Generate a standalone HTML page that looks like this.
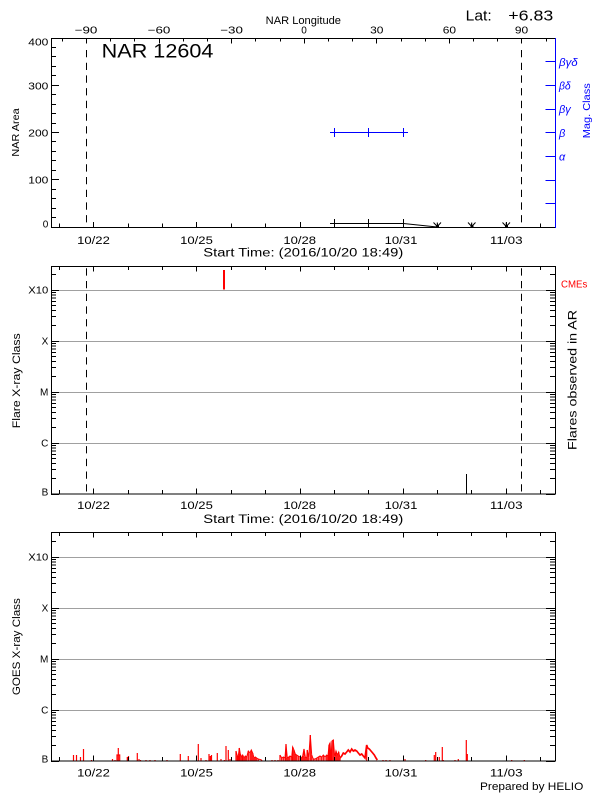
<!DOCTYPE html>
<html><head><meta charset="utf-8"><style>
html,body{margin:0;padding:0;background:#fff;}
svg{display:block;font-family:"Liberation Sans",sans-serif;}
</style></head><body>
<svg width="600" height="800" viewBox="0 0 600 800" xmlns="http://www.w3.org/2000/svg">
<defs>
<clipPath id="c2"><rect x="51" y="266" width="505" height="229"/></clipPath>
<clipPath id="c3"><rect x="51" y="532" width="505" height="230"/></clipPath>
<g id="lt" stroke="#000" stroke-width="1" shape-rendering="crispEdges" fill="none">
<path d="M51 -15.35h5M51 -24.33h5M51 -30.7h5M51 -35.65h5M51 -39.69h5M51 -43.1h5M51 -46.06h5M51 -48.67h5M51 0.5h8
M555 -15.35h-5M555 -24.33h-5M555 -30.7h-5M555 -35.65h-5M555 -39.69h-5M555 -43.1h-5M555 -46.06h-5M555 -48.67h-5M555 0.5h-9"/>
</g>
</defs>
<rect width="600" height="800" fill="#fff"/>

<!-- ================= PANEL 1 ================= -->
<g fill="#000">
<text x="265.7" y="24" font-size="11" textLength="75.3" lengthAdjust="spacingAndGlyphs">NAR Longitude</text>
<g font-size="10" text-anchor="middle">
<text x="86" y="33.3" textLength="22.7" lengthAdjust="spacingAndGlyphs">−90</text>
<text x="159" y="33.3" textLength="22.7" lengthAdjust="spacingAndGlyphs">−60</text>
<text x="231.6" y="33.3" textLength="22.7" lengthAdjust="spacingAndGlyphs">−30</text>
<text x="304" y="33.3">0</text>
<text x="376.8" y="33.3" textLength="13.3" lengthAdjust="spacingAndGlyphs">30</text>
<text x="449.4" y="33.3" textLength="13.3" lengthAdjust="spacingAndGlyphs">60</text>
<text x="521.5" y="33.3" textLength="13.3" lengthAdjust="spacingAndGlyphs">90</text>
</g>
<text x="465.7" y="20.7" font-size="15" textLength="26" lengthAdjust="spacingAndGlyphs">Lat:</text>
<text x="508.3" y="20.7" font-size="15" textLength="45" lengthAdjust="spacingAndGlyphs">+6.83</text>
<text x="101.7" y="57.3" font-size="19" textLength="111.7" lengthAdjust="spacingAndGlyphs">NAR 12604</text>
<g font-size="10" text-anchor="end">
<text x="48.3" y="45.7" textLength="20" lengthAdjust="spacingAndGlyphs">400</text>
<text x="48.3" y="89.3" textLength="20" lengthAdjust="spacingAndGlyphs">300</text>
<text x="48.3" y="136.7" textLength="20" lengthAdjust="spacingAndGlyphs">200</text>
<text x="48.3" y="183.3" textLength="20" lengthAdjust="spacingAndGlyphs">100</text>
<text x="48.3" y="227.7">0</text>
</g>
<text transform="translate(19,132.5) rotate(-90)" font-size="10.5" text-anchor="middle" textLength="48.3" lengthAdjust="spacingAndGlyphs">NAR Area</text>
<g font-size="11" text-anchor="middle">
<text x="93.5" y="244" textLength="32.7" lengthAdjust="spacingAndGlyphs">10/22</text>
<text x="196.5" y="244" textLength="32.7" lengthAdjust="spacingAndGlyphs">10/25</text>
<text x="299.7" y="244" textLength="32.7" lengthAdjust="spacingAndGlyphs">10/28</text>
<text x="401" y="244" textLength="32.7" lengthAdjust="spacingAndGlyphs">10/31</text>
<text x="506.3" y="244" textLength="32.7" lengthAdjust="spacingAndGlyphs">11/03</text>
</g>
<text x="203.3" y="256.5" font-size="11.5" textLength="200" lengthAdjust="spacingAndGlyphs">Start Time: (2016/10/20 18:49)</text>
</g>
<g fill="#0000ff" font-size="11" font-style="italic">
<text x="559" y="65.8" textLength="18.7" lengthAdjust="spacingAndGlyphs">βγδ</text>
<text x="559" y="89.5" textLength="11.7" lengthAdjust="spacingAndGlyphs">βδ</text>
<text x="559" y="113.2" textLength="11.7" lengthAdjust="spacingAndGlyphs">βγ</text>
<text x="559" y="136.8">β</text>
<text x="559" y="160.5">α</text>
</g>
<text transform="translate(590,110.8) rotate(-90)" fill="#0000ff" font-size="10.5" text-anchor="middle" textLength="55" lengthAdjust="spacingAndGlyphs">Mag. Class</text>

<g stroke="#000" stroke-width="1" fill="none" shape-rendering="crispEdges">
<path d="M51 38.5H555M51 227.5H555M51.5 38V228"/>
<!-- longitude ticks -->
<path d="M62.5 38v3.5M110.5 38v3.5M134.5 38v3.5M183.5 38v3.5M207.5 38v3.5M255.5 38v3.5M280.5 38v3.5M328.5 38v3.5M352.5 38v3.5M401.5 38v3.5M425.5 38v3.5M473.5 38v3.5M497.5 38v3.5M546.5 38v3.5
M86.5 38v5.5M159.5 38v5.5M231.5 38v5.5M304.5 38v5.5M376.5 38v5.5M449.5 38v5.5M521.5 38v5.5"/>
<!-- bottom day ticks -->
<path d="M59.5 227v-3.5M128.5 227v-3.5M162.5 227v-3.5M231.5 227v-3.5M265.5 227v-3.5M334.5 227v-3.5M368.5 227v-3.5M437.5 227v-3.5M471.5 227v-3.5M540.5 227v-3.5
M93.5 227v-5M196.5 227v-5M300.5 227v-5M403.5 227v-5M506.5 227v-5"/>
<!-- left y ticks -->
<path d="M51 217.5h5M51 208.5h5M51 198.5h5M51 189.5h5M51 170.5h5M51 160.5h5M51 151.5h5M51 141.5h5M51 123.5h5M51 113.5h5M51 104.5h5M51 94.5h5M51 75.5h5M51 66.5h5M51 56.5h5M51 47.5h5
M51 179.5h8M51 132.5h8M51 85.5h8"/>
</g>
<g stroke="#0000ff" stroke-width="1" fill="none" shape-rendering="crispEdges">
<path d="M555.5 38V228M545.5 61.5H555M545.5 85.5H555M545.5 109.5H555M545.5 132.5H555M545.5 156.5H555M545.5 180.5H555M545.5 203.5H555"/>
<path d="M330 132.5H408M334.5 128V137M368.5 128V137M403.5 128V137"/>
</g>
<g stroke="#000" stroke-width="1" fill="none">
<path d="M330 223.5H403.5L437 227" />
<path d="M334.5 219V227M368.5 219V227M403.5 219V227" shape-rendering="crispEdges"/>
<path d="M433.5 222.5L437.3 226.5L441 222.5M437.3 222.5V227M468 222.5L471.7 226.5L475.5 222.5M471.7 222.5V227M502.5 222.5L506.2 226.5L510 222.5M506.2 222.5V227"/>
</g>
<g fill="#000"><rect x="436" y="225" width="3" height="3"/><rect x="470.5" y="225" width="3" height="3"/><rect x="505" y="225" width="3" height="3"/></g>
<g stroke="#000" stroke-width="1" fill="none" stroke-dasharray="7.3 5.4">
<line x1="86.5" y1="50" x2="86.5" y2="227"/>
<line x1="521.5" y1="50" x2="521.5" y2="227"/>
</g>

<!-- ================= PANEL 2 ================= -->
<g stroke="#a0a0a0" stroke-width="1" shape-rendering="crispEdges">
<path d="M51 290.5H555M51 341.5H555M51 392.5H555M51 443.5H555"/>
</g>
<g clip-path="url(#c2)">
<use href="#lt" transform="translate(0,494)"/>
<use href="#lt" transform="translate(0,443)"/>
<use href="#lt" transform="translate(0,392)"/>
<use href="#lt" transform="translate(0,341)"/>
<use href="#lt" transform="translate(0,290)"/>
</g>
<g stroke="#000" stroke-width="1" fill="none" shape-rendering="crispEdges">
<rect x="51.5" y="266.5" width="504" height="227.5"/>
<path d="M59.5 494v-4M128.5 494v-4M162.5 494v-4M231.5 494v-4M265.5 494v-4M334.5 494v-4M368.5 494v-4M437.5 494v-4M471.5 494v-4M540.5 494v-4
M93.5 494v-5.5M196.5 494v-5.5M300.5 494v-5.5M403.5 494v-5.5M506.5 494v-5.5
M59.5 266v4M128.5 266v4M162.5 266v4M231.5 266v4M265.5 266v4M334.5 266v4M368.5 266v4M437.5 266v4M471.5 266v4M540.5 266v4
M93.5 266v5.5M196.5 266v5.5M300.5 266v5.5M403.5 266v5.5M506.5 266v5.5"/>
<path d="M466.5 474V494"/>
</g>
<rect x="223" y="270" width="2" height="19.5" fill="#ff0000"/>
<g stroke="#000" stroke-width="1" fill="none" stroke-dasharray="7.3 5.4">
<line x1="86.5" y1="268.3" x2="86.5" y2="494"/>
<line x1="521.5" y1="268.3" x2="521.5" y2="494"/>
</g>
<g fill="#000">
<g font-size="10" text-anchor="end">
<text x="48.3" y="293.5" textLength="20" lengthAdjust="spacingAndGlyphs">X10</text>
<text x="48.3" y="344.5">X</text>
<text x="48.3" y="395.5">M</text>
<text x="48.3" y="446.5">C</text>
<text x="48.3" y="495.7">B</text>
</g>
<text transform="translate(20,380.8) rotate(-90)" font-size="11" text-anchor="middle" textLength="95" lengthAdjust="spacingAndGlyphs">Flare X-ray Class</text>
<text transform="translate(576.7,380) rotate(-90)" font-size="11.5" text-anchor="middle" textLength="140" lengthAdjust="spacingAndGlyphs">Flares observed in AR</text>
<g font-size="11" text-anchor="middle">
<text x="93.5" y="509" textLength="32.7" lengthAdjust="spacingAndGlyphs">10/22</text>
<text x="196.5" y="509" textLength="32.7" lengthAdjust="spacingAndGlyphs">10/25</text>
<text x="299.7" y="509" textLength="32.7" lengthAdjust="spacingAndGlyphs">10/28</text>
<text x="401" y="509" textLength="32.7" lengthAdjust="spacingAndGlyphs">10/31</text>
<text x="506.3" y="509" textLength="32.7" lengthAdjust="spacingAndGlyphs">11/03</text>
</g>
<text x="203.3" y="523" font-size="11.5" textLength="200" lengthAdjust="spacingAndGlyphs">Start Time: (2016/10/20 18:49)</text>
</g>
<text x="561" y="287.3" fill="#ff0000" font-size="10.5" textLength="26.3" lengthAdjust="spacingAndGlyphs">CMEs</text>

<!-- ================= PANEL 3 ================= -->
<g stroke="#a0a0a0" stroke-width="1" shape-rendering="crispEdges">
<path d="M51 557.5H555M51 608.5H555M51 659.5H555M51 710.5H555"/>
</g>
<g clip-path="url(#c3)">
<use href="#lt" transform="translate(0,761)"/>
<use href="#lt" transform="translate(0,710)"/>
<use href="#lt" transform="translate(0,659)"/>
<use href="#lt" transform="translate(0,608)"/>
<use href="#lt" transform="translate(0,557)"/>
</g>

<!-- GOES data -->
<g stroke="#ff0000" fill="none" stroke-width="1.2">
<path d="M73.5 761V755M76.5 761V755M80.5 761V757M83.5 761V749M91.5 761V760M112.5 761V759M115 761V760M117 761V755H119.7V761M118.3 761V748M127.3 761V757M128.5 761V756M137.3 761V753M139 761V759M140.5 761V760M146 761V760M150 761V760M155 761V760M167 761V760M180.3 761V754M188.3 761V756M198.3 761V744M201 761V758M206 761V760M209 761V754M210.3 761V756M211.5 761V755M217.3 761V753M221 761V759M224.3 761V760M226 761V746M228.3 761V750M230 761V759
M236 761V751M237.3 761V756M238.3 761V756M239.3 761V748M240.3 761V754M241.7 761V757M242.7 761V755M244 761V758M245.3 761V756M246.7 761V757M248.3 761V751M250 761V753M251.3 761V750M252.7 761V753M254 761V758M255.3 761V757M256.7 761V758M258.3 761V759M261.7 761V760M272 761V760M275 761V760M278 761V760
M280 761V755M281.7 761V758M283.3 761V757M285 761V758M286 761V744M287.3 761V758M288.7 761V757M290 761V756M291.7 761V757M292.7 761V747M294 761V750M295.3 761V754M296.7 761V755M298.3 761V756M300 761V757M301.3 761V758M302.7 761V756M304 761V749M305.3 761V757M306.7 761V758M307.3 761V750M308.7 761V758M310.3 761V735M311.7 761V755M313.3 761V759M315 761V759M316.7 761V758M318.3 761V757M320 761V756M321.7 761V757M323.3 761V755M325 761V757M326.7 761V755M328 761V756M329 761V745M330 761V743M331 761V758M332 761V741M333.3 761V740M334.7 761V757M336 761V751M337.3 761V755M338.7 761V752M340 761V758M366.7 761V745
M383 761V760M386 761V760M390 761V760M405 761V759M425.7 761V760M434.3 761V755M435.7 761V752M439.3 761V757M442.3 761V747M443.3 761V760M455 761V760M458.3 761V759M466.3 761V740M467.3 761V754M511.7 761V760M524.3 761V760"/>
<polyline stroke-width="1" points="236,751 237.3,756 238.3,756 239.3,748 240.3,754 241.7,757 242.7,755 244,758 245.3,756 246.7,757 248.3,751 250,753 251.3,750 252.7,753 254,758 255.3,757 256.7,758 258.3,759 261.7,760"/>
<polyline stroke-width="1" points="280,755 281.7,758 283.3,757 285,758 286,744 287.3,758 288.7,757 290,756 291.7,757 292.7,747 294,750 295.3,754 296.7,755 298.3,756 300,757 301.3,758 302.7,756 304,749 305.3,757 306.7,758 307.3,750 308.7,758 310.3,735 311.7,755 313.3,759 315,759 316.7,758 318.3,757 320,756 321.7,757 323.3,755 325,757 326.7,755 328,756 329,745 330,743 331,758 332,741 333.3,740 334.7,757 336,751 337.3,755 338.7,752 340,758"/>
<polyline stroke-width="1.7" points="340,758 341.7,756 343.3,753 345,754 346.7,752 348.3,750 350,752 351.7,749 353.3,751 355,750 356.7,751 358.3,753 360,755 361.7,754 363.3,756 365,758 366.7,745 367.7,748 369.3,749 371,751 372.7,753 374.3,755 376,758 377.3,760"/>
</g>

<g stroke="#000" stroke-width="1" fill="none" shape-rendering="crispEdges">
<rect x="51.5" y="532.5" width="504" height="228.5"/>
<path d="M59.5 761v-4M128.5 761v-4M162.5 761v-4M231.5 761v-4M265.5 761v-4M334.5 761v-4M368.5 761v-4M437.5 761v-4M471.5 761v-4M540.5 761v-4
M93.5 761v-5.5M196.5 761v-5.5M300.5 761v-5.5M403.5 761v-5.5M506.5 761v-5.5
M59.5 532v4M128.5 532v4M162.5 532v4M231.5 532v4M265.5 532v4M334.5 532v4M368.5 532v4M437.5 532v4M471.5 532v4M540.5 532v4
M93.5 532v5.5M196.5 532v5.5M300.5 532v5.5M403.5 532v5.5M506.5 532v5.5"/>
</g>
<g fill="#000">
<g font-size="10" text-anchor="end">
<text x="48.3" y="560.7" textLength="20" lengthAdjust="spacingAndGlyphs">X10</text>
<text x="48.3" y="611.7">X</text>
<text x="48.3" y="662.7">M</text>
<text x="48.3" y="713.7">C</text>
<text x="48.3" y="762.3">B</text>
</g>
<text transform="translate(20,646.7) rotate(-90)" font-size="11" text-anchor="middle" textLength="97" lengthAdjust="spacingAndGlyphs">GOES X-ray Class</text>
<g font-size="11" text-anchor="middle">
<text x="93.5" y="776.7" textLength="32.7" lengthAdjust="spacingAndGlyphs">10/22</text>
<text x="196.5" y="776.7" textLength="32.7" lengthAdjust="spacingAndGlyphs">10/25</text>
<text x="299.7" y="776.7" textLength="32.7" lengthAdjust="spacingAndGlyphs">10/28</text>
<text x="401" y="776.7" textLength="32.7" lengthAdjust="spacingAndGlyphs">10/31</text>
<text x="506.3" y="776.7" textLength="32.7" lengthAdjust="spacingAndGlyphs">11/03</text>
</g>
<text x="480" y="790" font-size="11" textLength="103.3" lengthAdjust="spacingAndGlyphs">Prepared by HELIO</text>
</g>
</svg>
</body></html>
